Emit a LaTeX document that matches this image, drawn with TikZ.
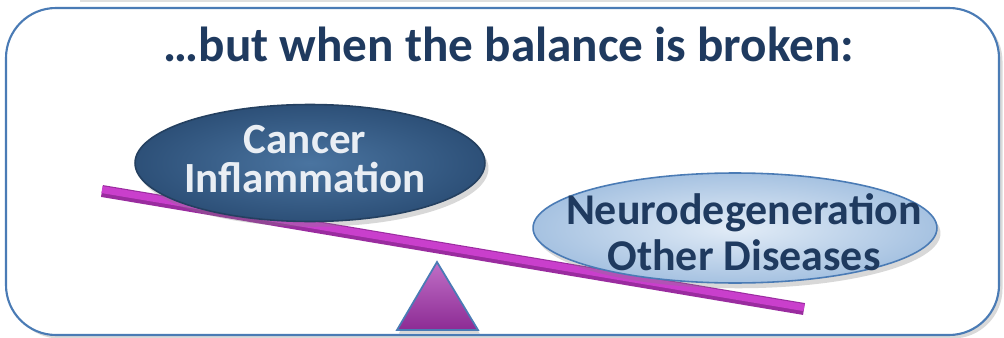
\documentclass[tikz,border=0pt]{standalone}
\usepackage{fontspec}
\setmainfont{Carlito}
\usetikzlibrary{shapes.geometric,shadows}
\definecolor{frameblue}{HTML}{4A7BB5}
\definecolor{navy}{HTML}{1F3A5F}
\definecolor{heavyin}{HTML}{4A74A0}
\definecolor{heavyout}{HTML}{2D5078}
\definecolor{lightin}{HTML}{E2ECF7}
\definecolor{lightout}{HTML}{A6C2E1}
\definecolor{beamdark}{HTML}{9A2C9F}
\definecolor{beammid}{HTML}{C93FCC}
\definecolor{pivotpurple}{HTML}{A532AE}
\tikzset{
  frame/.style={draw=frameblue, line width=1.2pt, fill=white, rounded corners=1cm,
    drop shadow={opacity=0.3, shadow xshift=2pt, shadow yshift=-2pt}},
  headline/.style={font=\bfseries\fontsize{28}{32}\selectfont, text=navy, anchor=base},
  weight/.style={ellipse, inner sep=0pt, line width=0.9pt,
    drop shadow={opacity=0.3, shadow xshift=2pt, shadow yshift=-3pt}},
  heavy/.style={weight, draw=heavyout!80!black, inner color=heavyin, outer color=heavyout},
  light/.style={weight, draw=frameblue, inner color=lightin, outer color=lightout},
  heavytext/.style={font=\bfseries\fontsize{24.5}{22}\selectfont, text=white!88!heavyin, align=center},
  lighttext/.style={font=\bfseries\fontsize{25}{26}\selectfont, text=navy, align=center},
  beam/.style={line width=12*0.02cm, draw=beamdark, line cap=butt,
    drop shadow={opacity=0.25, shadow xshift=1pt, shadow yshift=-3pt}},
  beamtop/.style={line width=7*0.02cm, draw=beammid, line cap=butt},
  pivot/.style={draw=frameblue, line width=1pt, line join=miter,
    top color=pivotpurple!70!white, bottom color=pivotpurple!85!black,
    drop shadow={opacity=0.3, shadow xshift=1pt, shadow yshift=-2pt}}
}
\begin{document}
\begin{tikzpicture}[x=0.02cm,y=-0.02cm]
  \useasboundingbox (0,0) rectangle (1004,338);
  % faint edge of the slide above
  \draw[gray!25, line width=1.5pt] (80,1) -- (920,1);
  % frame and headline
  \path[frame] (6,8) rectangle (999,335);
  \node[headline] (head) at (509,61) {…but when the balance is broken:};
  % the tilted beam
  \coordinate (beamL) at (102,191);
  \coordinate (beamR) at (804,309);
  \draw[beam] (beamL) -- (beamR);
  \draw[beamtop] ([yshift=0.8pt]beamL) -- ([yshift=0.8pt]beamR);
  % fulcrum
  \coordinate (apex) at (437,262);
  \coordinate (baseR) at (478,330);
  \coordinate (baseL) at (397,330);
  \path[pivot] (apex) -- (baseR) -- (baseL) -- cycle;
  % the two weights
  \node[heavy, minimum width=7cm, minimum height=2.34cm] (cancer) at (310,163) {};
  \node[heavytext] (cancertext) at (305,159) {Cancer\\Inflammation};
  \node[light, minimum width=8.08cm, minimum height=2.2cm] (neuro) at (735,228) {};
  \node[lighttext] (neurotext) at (744,232) {Neurodegeneration\\Other Diseases};
\end{tikzpicture}
\end{document}
